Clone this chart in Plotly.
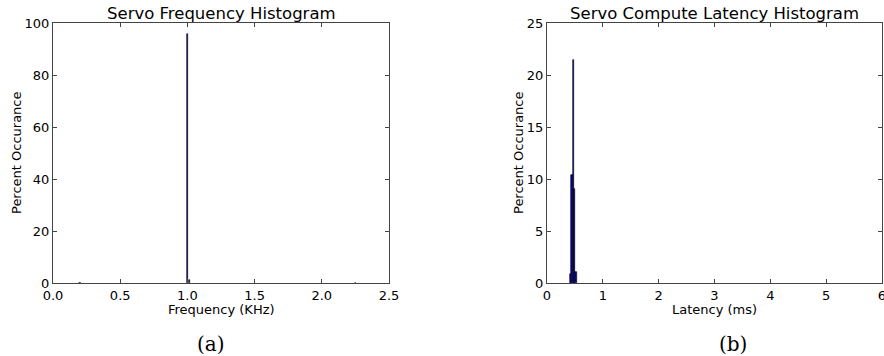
import plotly.graph_objects as go

# Servo frequency histogram (KHz, percent)
freq_bins = [0.20, 1.00, 1.015, 2.25]
freq_pct = [0.15, 95.6, 1.0, 0.1]
freq_width = 0.012

# Servo compute latency histogram (ms, percent)
lat_bins = [0.42, 0.445, 0.47, 0.495, 0.52]
lat_pct = [0.85, 10.4, 21.4, 9.0, 1.1]
lat_width = 0.025

freq_ticks = [0.0, 0.5, 1.0, 1.5, 2.0, 2.5]
freq_tick_text = ["0.0", "0.5", "1.0", "1.5", "2.0", "2.5"]
freq_y_ticks = [0, 20, 40, 60, 80, 100]
lat_ticks = [0, 1, 2, 3, 4, 5, 6]
lat_y_ticks = [0, 5, 10, 15, 20, 25]

W, H = 884, 356
font = "DejaVu Sans"
AX = (53, 389)
BX = (547, 882)
TOP, BOT = 23, 283

fig = go.Figure()
fig.add_trace(go.Bar(x=freq_bins, y=freq_pct, width=freq_width,
                     marker=dict(color="#0000b0", line=dict(color="black", width=0.6)),
                     xaxis="x", yaxis="y", showlegend=False))
fig.add_trace(go.Bar(x=lat_bins, y=lat_pct, width=lat_width,
                     marker=dict(color="#0000b0", line=dict(color="black", width=0.6)),
                     xaxis="x2", yaxis="y2", showlegend=False))

ydom = [(H - BOT) / H, (H - TOP) / H]
axis_common = dict(showgrid=False, zeroline=False, showline=True, linecolor="#444444",
                   linewidth=1, mirror="ticks", ticks="inside", ticklen=4,
                   tickcolor="#444444", automargin=False, ticklabeloverflow="allow",
                   tickfont=dict(family=font, size=13, color="black"))


def ann(text, x, y, size, family=font, xanchor="center", yanchor="middle", angle=0):
    return dict(text=text, x=x / W, y=(H - y) / H, xref="paper", yref="paper",
                xanchor=xanchor, yanchor=yanchor, showarrow=False, textangle=angle,
                font=dict(family=family, size=size, color="black"))


fig.update_layout(
    width=W, height=H,
    margin=dict(l=0, r=0, t=0, b=0),
    paper_bgcolor="white", plot_bgcolor="white",
    bargap=0,
    font=dict(family=font, color="black"),
    xaxis=dict(domain=[AX[0] / W, AX[1] / W], range=[0, 2.5], tickvals=freq_ticks,
               ticktext=freq_tick_text, anchor="y", **axis_common),
    yaxis=dict(domain=ydom, range=[0, 100], tickvals=freq_y_ticks, anchor="x",
               **axis_common),
    xaxis2=dict(domain=[BX[0] / W, BX[1] / W], range=[0, 6], tickvals=lat_ticks,
                anchor="y2", **axis_common),
    yaxis2=dict(domain=ydom, range=[0, 25], tickvals=lat_y_ticks, anchor="x2",
                **axis_common),
    annotations=[
        ann("Servo Frequency Histogram", (AX[0] + AX[1]) / 2, 14, 16.5),
        ann("Servo Compute Latency Histogram", (BX[0] + BX[1]) / 2, 14, 16.5),
        ann("Frequency (KHz)", 221, 309, 13),
        ann("Latency (ms)", 714, 309, 13),
        ann("Percent Occurance", 16, (TOP + BOT) / 2, 13, angle=-90),
        ann("Percent Occurance", 518, (TOP + BOT) / 2, 13, angle=-90),
        ann("(a)", 211, 344, 20, family="DejaVu Serif"),
        ann("(b)", 733, 344, 20, family="DejaVu Serif"),
    ],
)

fig.write_html("out.html", config={"displayModeBar": False},
               post_script="document.body.style.margin='0';document.body.style.overflow='hidden';")
